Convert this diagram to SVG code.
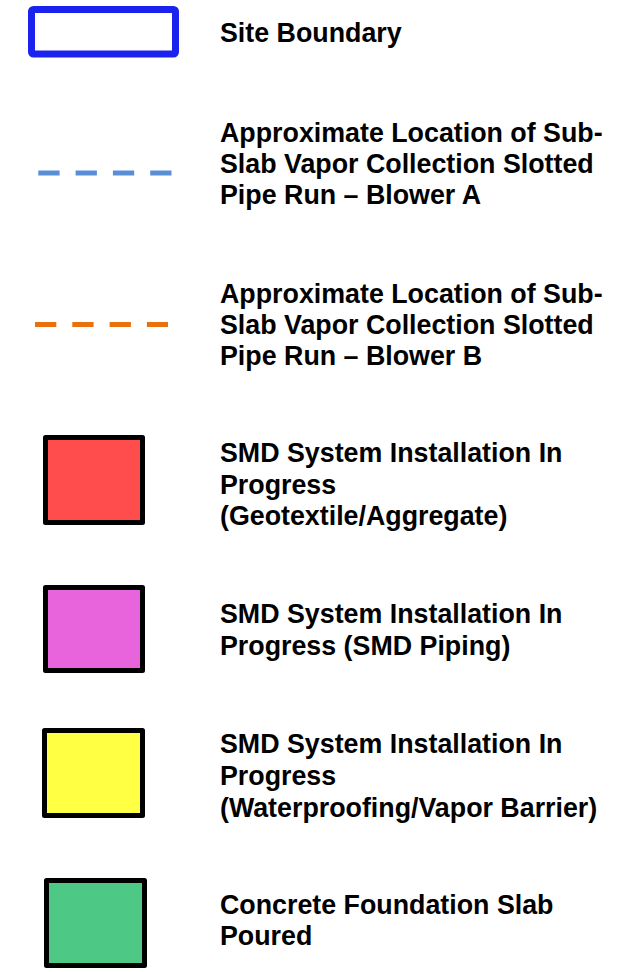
<svg xmlns="http://www.w3.org/2000/svg" width="622" height="972" viewBox="0 0 622 972">
<style>
.lbl{font-family:"Liberation Sans",Arial,sans-serif;font-weight:bold;font-size:26.8px;fill:#000}
.sw{stroke:#000;stroke-width:5;stroke-linejoin:round}
.dash{fill:none;stroke-width:5;stroke-dasharray:21.3 16}
</style>
<rect width="622" height="972" fill="#fff"/>
<g id="site-boundary">
<rect x="31.5" y="9.5" width="144" height="44.5" rx="2" fill="#fff" stroke="#1b22ee" stroke-width="7"/>
<text class="lbl" x="220" y="42">Site Boundary</text>
</g>
<g id="blower-a">
<line class="dash" x1="38.3" y1="173" x2="171.5" y2="173" stroke="#5a8fd8"/>
<text class="lbl" x="220" y="142">Approximate Location of Sub-</text>
<text class="lbl" x="220" y="173">Slab Vapor Collection Slotted</text>
<text class="lbl" x="220" y="204">Pipe Run – Blower A</text>
</g>
<g id="blower-b">
<line class="dash" x1="35" y1="324.5" x2="168" y2="324.5" stroke="#e8700f"/>
<text class="lbl" x="220" y="303">Approximate Location of Sub-</text>
<text class="lbl" x="220" y="334">Slab Vapor Collection Slotted</text>
<text class="lbl" x="220" y="365">Pipe Run – Blower B</text>
</g>
<g id="geotextile">
<rect class="sw" x="45.5" y="437.5" width="97" height="85" fill="#ff4c4c"/>
<text class="lbl" x="220" y="462">SMD System Installation In</text>
<text class="lbl" x="220" y="494">Progress</text>
<text class="lbl" x="220" y="525">(Geotextile/Aggregate)</text>
</g>
<g id="smd-piping">
<rect class="sw" x="45.5" y="587.5" width="97" height="83" fill="#e864dc"/>
<text class="lbl" x="220" y="623">SMD System Installation In</text>
<text class="lbl" x="220" y="655">Progress (SMD Piping)</text>
</g>
<g id="waterproofing">
<rect class="sw" x="44.5" y="730.5" width="98" height="85" fill="#ffff44"/>
<text class="lbl" x="220" y="753">SMD System Installation In</text>
<text class="lbl" x="220" y="785">Progress</text>
<text class="lbl" x="220" y="817">(Waterproofing/Vapor Barrier)</text>
</g>
<g id="concrete">
<rect class="sw" x="46.5" y="880.5" width="98" height="85" fill="#4dc885"/>
<text class="lbl" x="220" y="914">Concrete Foundation Slab</text>
<text class="lbl" x="220" y="945">Poured</text>
</g>
<g id="connectors"/>
</svg>
